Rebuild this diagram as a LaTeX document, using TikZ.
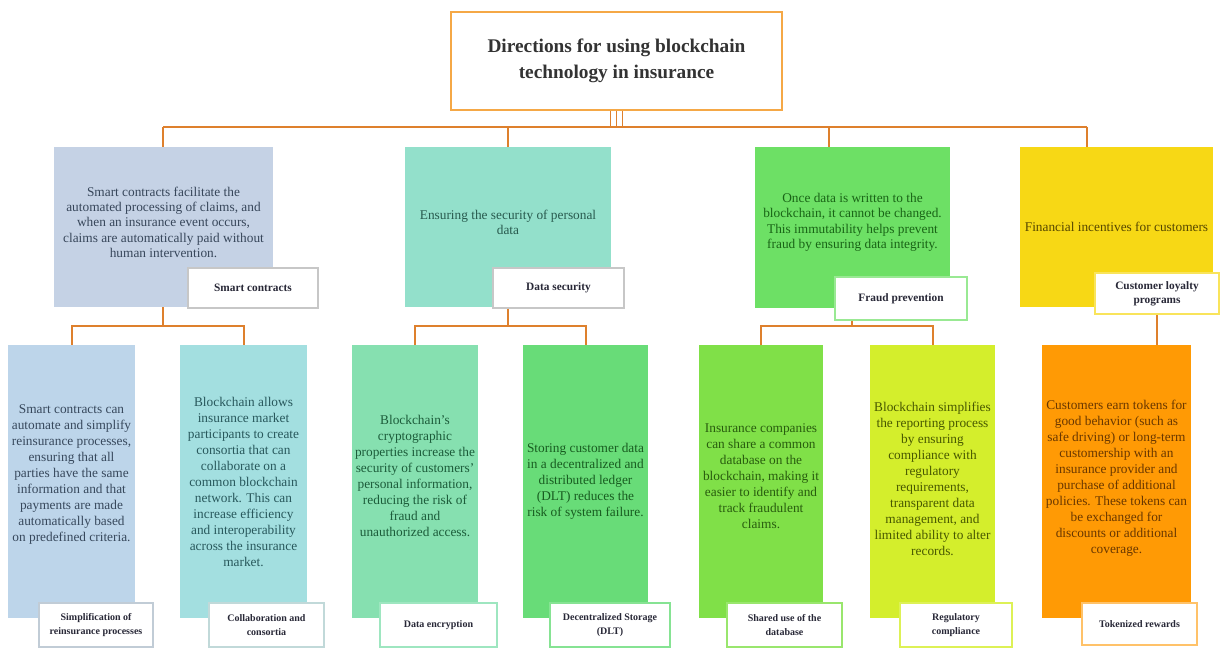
\documentclass[tikz,border=0pt]{standalone}
\usepackage{fontspec}
\setmainfont{Liberation Serif}
\definecolor{connc}{RGB}{222,128,45}
\definecolor{titleb}{RGB}{245,168,70}
\definecolor{labtext}{RGB}{40,40,55}
\definecolor{fA}{RGB}{197,210,229}\definecolor{tA}{RGB}{55,70,90}
\definecolor{fB}{RGB}{147,224,203}\definecolor{tB}{RGB}{40,90,78}
\definecolor{fC}{RGB}{109,224,101}\definecolor{tC}{RGB}{25,100,22}
\definecolor{fD}{RGB}{247,216,21}\definecolor{tD}{RGB}{85,70,0}
\definecolor{gA}{RGB}{189,213,234}\definecolor{uA}{RGB}{55,72,92}
\definecolor{gB}{RGB}{163,223,224}\definecolor{uB}{RGB}{40,88,92}
\definecolor{gC}{RGB}{134,224,176}\definecolor{uC}{RGB}{28,92,58}
\definecolor{gD}{RGB}{104,220,120}\definecolor{uD}{RGB}{24,92,32}
\definecolor{gE}{RGB}{128,224,72}\definecolor{uE}{RGB}{40,92,14}
\definecolor{gF}{RGB}{212,238,44}\definecolor{uF}{RGB}{72,88,0}
\definecolor{gG}{RGB}{255,154,5}\definecolor{uG}{RGB}{105,55,0}
\newcommand\bx[7]{\node[box,#6,minimum width={(#4-#2)*0.75pt},minimum height={(#5-#3)*0.75pt}] (#1) at ({(#2+#4)/2},{(#3+#5)/2}) {#7};}
\begin{document}
\begin{tikzpicture}[x=0.75pt,y=-0.75pt,
  conn/.style={draw=connc,line width=1.5pt},
  box/.style={rectangle,inner sep=0pt,align=center},
  topt/.style={font=\fontsize{10}{11.5}\selectfont},
  bott/.style={font=\fontsize{10}{12}\selectfont},
  lab/.style={fill=white,draw=#1,line width=0.8pt,text=labtext,font=\fontsize{8.5}{10.5}\selectfont\bfseries},
  blab/.style={fill=white,draw=#1,line width=0.8pt,text=labtext,font=\fontsize{7.5}{11}\selectfont\bfseries}]
\useasboundingbox (0,0) rectangle (1220,648);
% title
\bx{title}{451}{12}{782}{110}{draw=titleb,line width=1.3pt,fill=white,text=black!80,font=\fontsize{14.5}{19.5}\selectfont\bfseries}{Directions for using blockchain\\technology in insurance}
% top boxes
\bx{t1}{54}{147}{273}{307}{fill=fA,text=tA,topt}{Smart contracts facilitate the\\automated processing of claims, and\\when an insurance event occurs,\\claims are automatically paid without\\human intervention.\\[-4pt]}
\bx{t2}{405}{147}{611}{307}{fill=fB,text=tB,topt}{Ensuring the security of personal\\data\\[-4pt]}
\bx{t3}{755}{147}{950}{308}{fill=fC,text=tC,topt}{Once data is written to the\\blockchain, it cannot be changed.\\This immutability helps prevent\\fraud by ensuring data integrity.\\[-1.5pt]}
\bx{t4}{1020}{147}{1213}{307}{fill=fD,text=tD,topt}{Financial incentives for customers}
% top labels
\bx{l1}{188}{268}{318}{308}{lab=black!22}{Smart contracts}
\bx{l2}{493}{268}{624}{308}{lab=black!22}{Data security}
\bx{l3}{835}{277}{967}{320}{lab=fC!70}{Fraud prevention}
\bx{l4}{1095}{273}{1219}{314}{lab=fD!70}{Customer loyalty\\programs}
% bottom boxes
\bx{b1}{8}{345}{135}{618}{fill=gA,text=uA,bott}{Smart contracts can\\automate and simplify\\reinsurance processes,\\ensuring that all\\parties have the same\\information and that\\payments are made\\automatically based\\on predefined criteria.\\[0pt]}
\bx{b2}{180}{345}{307}{618}{fill=gB,text=uB,bott}{Blockchain allows\\insurance market\\participants to create\\consortia that can\\collaborate on a\\common blockchain\\network. This can\\increase efficiency\\and interoperability\\across the insurance\\market.}
\bx{b3}{352}{345}{478}{618}{fill=gC,text=uC,bott}{Blockchain's\\cryptographic\\properties increase the\\security of customers'\\personal information,\\reducing the risk of\\fraud and\\unauthorized access.\\[-4pt]}
\bx{b4}{523}{345}{648}{618}{fill=gD,text=uD,bott}{Storing customer data\\in a decentralized and\\distributed ledger\\(DLT) reduces the\\risk of system failure.}
\bx{b5}{699}{345}{823}{618}{fill=gE,text=uE,bott}{Insurance companies\\can share a common\\database on the\\blockchain, making it\\easier to identify and\\track fraudulent\\claims.\\[-4pt]}
\bx{b6}{870}{345}{995}{618}{fill=gF,text=uF,bott}{Blockchain simplifies\\the reporting process\\by ensuring\\compliance with\\regulatory\\requirements,\\transparent data\\management, and\\limited ability to alter\\records.\\[-8pt]}
\bx{b7}{1042}{345}{1191}{618}{fill=gG,text=uG,bott}{Customers earn tokens for\\good behavior (such as\\safe driving) or long-term\\customership with an\\insurance provider and\\purchase of additional\\policies. These tokens can\\be exchanged for\\discounts or additional\\coverage.\\[-5pt]}
% bottom labels
\bx{m1}{39}{603}{153}{647}{blab=gA!80!black!60}{Simplification of\\reinsurance processes}
\bx{m2}{209}{603}{324}{647}{blab=gB!80!black!50}{Collaboration and\\consortia}
\bx{m3}{380}{603}{497}{647}{blab=gC!80}{Data encryption}
\bx{m4}{550}{603}{670}{647}{blab=gD!80}{Decentralized Storage\\(DLT)}
\bx{m5}{727}{603}{842}{647}{blab=gE!80}{Shared use of the\\database}
\bx{m6}{900}{603}{1012}{647}{blab=gF!80}{Regulatory\\compliance}
\bx{m7}{1082}{603}{1197}{645}{blab=gG!60}{Tokenized rewards}
% connectors: title to bus
\coordinate (bus1) at (163,127);
\coordinate (bus2) at (508,127);
\coordinate (bus3) at (829,127);
\coordinate (bus4) at (1087,127);
\draw[conn,line width=1pt] ([xshift=-6*0.75pt]title.south) -- +(0,17);
\draw[conn,line width=1pt] (title.south) -- +(0,17);
\draw[conn,line width=1pt] ([xshift=6*0.75pt]title.south) -- +(0,17);
\draw[conn] (bus1) -- (bus4);
\draw[conn] (bus1) -- (bus1 |- t1.north);
\draw[conn] (bus2) -- (bus2 |- t2.north);
\draw[conn] (bus3) -- (bus3 |- t3.north);
\draw[conn] (bus4) -- (bus4 |- t4.north);
% second level
\coordinate (s1) at (163,326);
\coordinate (s2) at (508,326);
\coordinate (s3) at (852,326);
\draw[conn] (s1 |- t1.south) -- (s1);
\draw[conn] (b1.north) |- (s1) -| (b2.north);
\draw[conn] (s2 |- l2.south) -- (s2);
\draw[conn] (b3.north) |- (s2) -| (b4.north);
\draw[conn] (s3 |- l3.south) -- (s3);
\draw[conn] (b5.north) |- (s3) -| (b6.north);
\draw[conn] (b7.north -| l4.south) -- (l4.south);
\end{tikzpicture}
\end{document}
